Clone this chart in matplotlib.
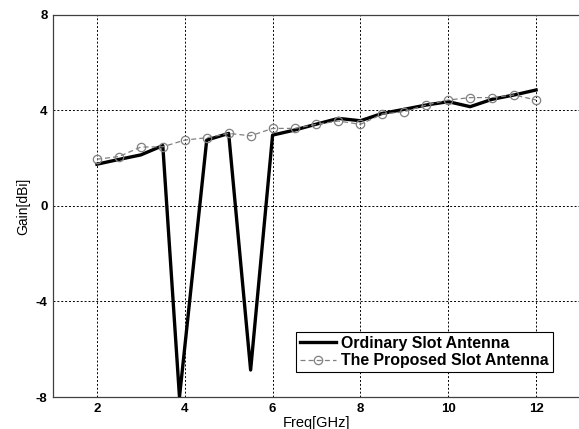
import matplotlib
matplotlib.use("Agg")
import matplotlib.pyplot as plt

plt.rcParams['font.family'] = ['Liberation Sans', 'DejaVu Sans']

freq_ord = [2, 2.5, 3, 3.5, 3.88, 4.5, 5, 5.5, 6, 6.5, 7, 7.5, 8, 8.5, 9, 9.5, 10, 10.5, 11, 11.5, 12]
gain_ord = [1.75, 1.95, 2.14, 2.53, -8.0, 2.76, 3.04, -6.87, 2.97, 3.18, 3.43, 3.67, 3.57, 3.88, 4.05, 4.23, 4.37, 4.16, 4.47, 4.65, 4.86]

freq_prop = [2, 2.5, 3, 3.5, 4, 4.5, 5, 5.5, 6, 6.5, 7, 7.5, 8, 8.5, 9, 9.5, 10, 10.5, 11, 11.5, 12]
gain_prop = [1.96, 2.07, 2.47, 2.48, 2.76, 2.86, 3.04, 2.94, 3.25, 3.25, 3.42, 3.56, 3.42, 3.85, 3.95, 4.23, 4.44, 4.54, 4.54, 4.65, 4.44]

xticks = [2, 4, 6, 8, 10, 12]
yticks = [-8, -4, 0, 4, 8]

fig = plt.figure(figsize=(5.79, 4.29), dpi=100)
ax = fig.add_axes([53/579, 1 - 397/429, 527/579, 382/429])

ax.plot(freq_ord, gain_ord, color='black', linewidth=2.4, label='Ordinary Slot Antenna', zorder=3)
ax.plot(freq_prop, gain_prop, color='#808080', linewidth=0.9, linestyle='--', dashes=(4, 2.5),
        marker='o', markersize=6, markerfacecolor='none', markeredgecolor='#808080',
        markeredgewidth=0.9, label='The Proposed Slot Antenna', zorder=4)

ax.set_xlim(1, 13)
ax.set_ylim(-8, 8)
ax.set_xticks(xticks)
ax.set_yticks(yticks)
ax.set_xticklabels([str(t) for t in xticks], fontweight='bold', fontsize=9.5)
ax.set_yticklabels([str(t) for t in yticks], fontweight='bold', fontsize=9.5)
ax.tick_params(length=0, pad=4)
ax.grid(True, color='black', linestyle=(0, (2, 2)), linewidth=0.7)
for s in ax.spines.values():
    s.set_color('#404040')
    s.set_linewidth(0.9)
ax.spines['right'].set_visible(False)

ax.set_xlabel('Freq[GHz]', fontsize=10.5, labelpad=1)
ax.set_ylabel('Gain[dBi]', fontsize=10, labelpad=4)

leg = ax.legend(loc='lower right', bbox_to_anchor=(0.948, 0.065), fancybox=False,
                edgecolor='black', framealpha=1, prop={'weight': 'bold', 'size': 11.4},
                handlelength=2.3, handletextpad=0.3, borderpad=0.25, labelspacing=0.15,
                borderaxespad=0)
leg.get_frame().set_linewidth(0.8)

fig.savefig('out.png', dpi=100)
